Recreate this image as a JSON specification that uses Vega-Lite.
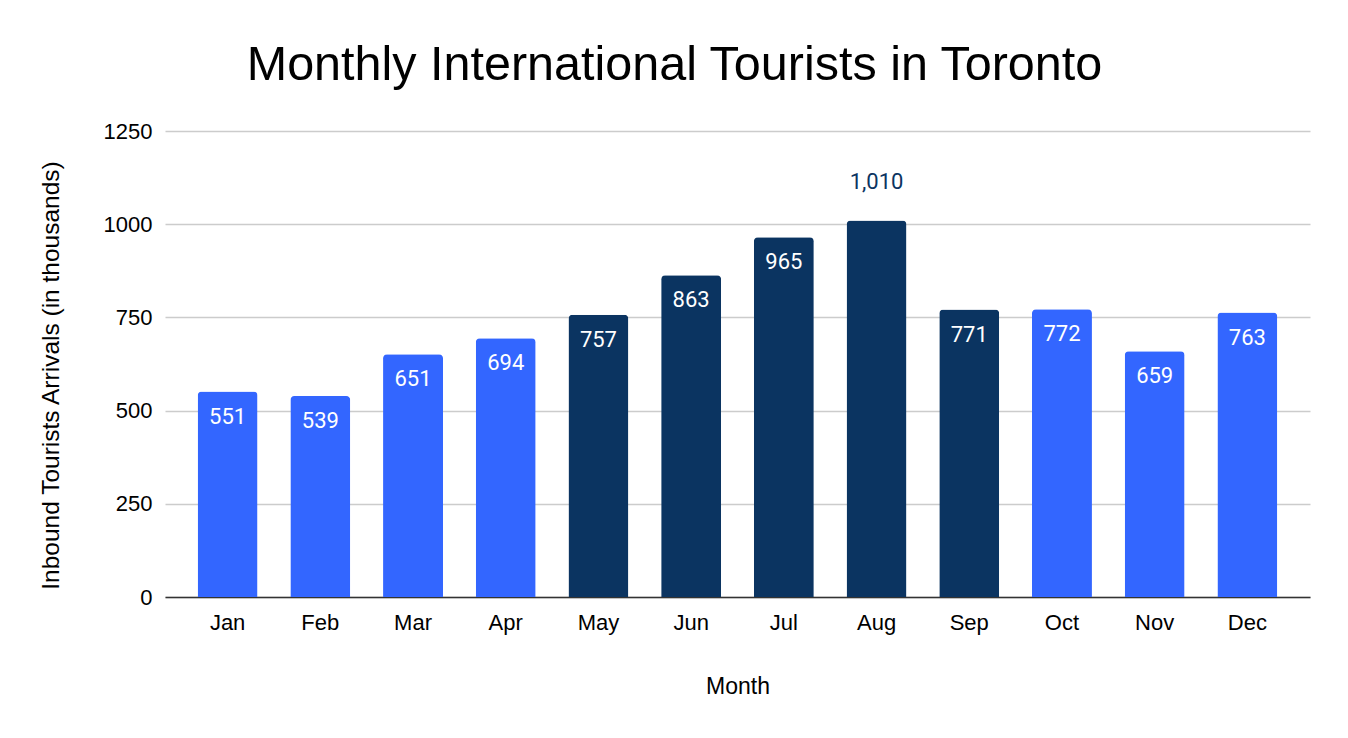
{
  "$schema": "https://vega.github.io/schema/vega-lite/v6.json",
  "width": 1145,
  "height": 466,
  "autosize": {"type": "none"},
  "padding": {"left": 165, "top": 131, "right": 38, "bottom": 141},
  "background": "white",
  "view": {"stroke": null},
  "title": {
    "text": "Monthly International Tourists in Toronto",
    "font": "Liberation Sans",
    "fontSize": 48.5,
    "fontWeight": "normal",
    "color": "#000000",
    "anchor": "middle",
    "frame": "group",
    "dx": -63,
    "offset": 30
  },
  "data": {
    "values": [
      {"month": "Jan", "arrivals": 551, "season": "off"},
      {"month": "Feb", "arrivals": 539, "season": "off"},
      {"month": "Mar", "arrivals": 651, "season": "off"},
      {"month": "Apr", "arrivals": 694, "season": "off"},
      {"month": "May", "arrivals": 757, "season": "peak"},
      {"month": "Jun", "arrivals": 863, "season": "peak"},
      {"month": "Jul", "arrivals": 965, "season": "peak"},
      {"month": "Aug", "arrivals": 1010, "season": "peak"},
      {"month": "Sep", "arrivals": 771, "season": "peak"},
      {"month": "Oct", "arrivals": 772, "season": "off"},
      {"month": "Nov", "arrivals": 659, "season": "off"},
      {"month": "Dec", "arrivals": 763, "season": "off"}
    ]
  },
  "encoding": {
    "x": {
      "field": "month",
      "type": "nominal",
      "sort": null,
      "title": "Month",
      "scale": {"paddingInner": 0.353, "paddingOuter": 0.352},
      "axis": {
        "labelAngle": 0,
        "labelFont": "Liberation Sans",
        "labelFontSize": 22,
        "labelColor": "#000000",
        "labelPadding": 15,
        "ticks": false,
        "domainColor": "#333333",
        "domainWidth": 1.5,
        "titleFont": "Liberation Sans",
        "titleFontSize": 23,
        "titleFontWeight": "normal",
        "titleColor": "#000000",
        "titlePadding": 42
      }
    },
    "y": {
      "field": "arrivals",
      "type": "quantitative",
      "title": "Inbound Tourists Arrivals (in thousands)",
      "scale": {"domain": [0, 1250]},
      "axis": {
        "values": [0, 250, 500, 750, 1000, 1250],
        "format": "d",
        "labelFont": "Liberation Sans",
        "labelFontSize": 22,
        "labelColor": "#000000",
        "labelPadding": 13,
        "ticks": false,
        "domain": false,
        "gridColor": "#cccccc",
        "gridWidth": 1.5,
        "titleFont": "Liberation Sans",
        "titleFontSize": 24.5,
        "titleFontWeight": "normal",
        "titleColor": "#000000",
        "titlePadding": 40,
        "titleY": 244
      }
    }
  },
  "layer": [
    {
      "mark": {
        "type": "bar",
        "cornerRadiusTopLeft": 4,
        "cornerRadiusTopRight": 4
      },
      "encoding": {
        "color": {
          "field": "season",
          "type": "nominal",
          "scale": {"domain": ["off", "peak"], "range": ["#3366ff", "#0b3461"]},
          "legend": null
        }
      }
    },
    {
      "transform": [{"filter": "datum.month != 'Aug'"}],
      "mark": {
        "type": "text",
        "baseline": "middle",
        "align": "center",
        "dy": 25,
        "font": "Roboto",
        "fontSize": 22,
        "color": "#ffffff"
      },
      "encoding": {
        "text": {"field": "arrivals", "type": "quantitative", "format": ",d"}
      }
    },
    {
      "transform": [{"filter": "datum.month == 'Aug'"}],
      "mark": {
        "type": "text",
        "baseline": "middle",
        "align": "center",
        "dy": -38,
        "font": "Roboto",
        "fontSize": 22,
        "color": "#0b3461"
      },
      "encoding": {
        "text": {"field": "arrivals", "type": "quantitative", "format": ",d"}
      }
    }
  ]
}
